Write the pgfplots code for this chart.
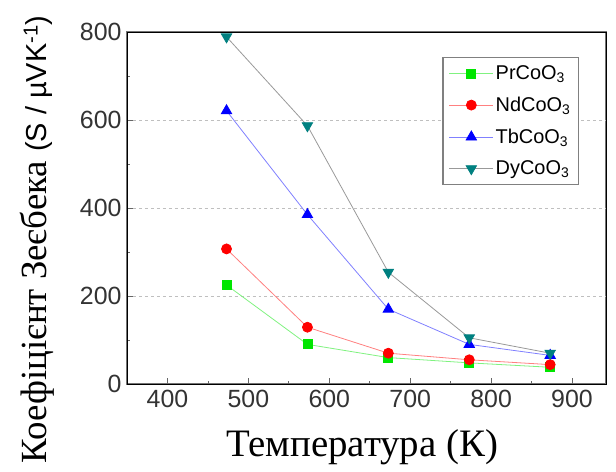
\documentclass[border=0pt]{standalone}
\usepackage{pgfplots}
\pgfplotsset{compat=1.18}
\usepackage{fontspec}
\setmainfont{Liberation Serif}
\newfontfamily\arial{Liberation Sans}
\definecolor{prc}{RGB}{0,230,0}
\definecolor{ndc}{RGB}{255,0,0}
\definecolor{tbc}{RGB}{0,0,255}
\definecolor{dyc}{RGB}{0,128,128}
\begin{document}
\begin{tikzpicture}[x=1bp,y=1bp]
\begin{axis}[
  name=ax,
  scale only axis,
  width=479bp, height=352bp,
  xmin=350, xmax=942, ymin=0, ymax=800,
  xtick={400,500,...,900}, minor x tick num=1,
  ytick={0,200,...,800}, minor y tick num=1,
  tick pos=left, tick align=inside,
  major tick length=6bp, minor tick length=3bp,
  axis background/.style={draw=black!55, line width=2bp},
  every tick/.style={black!60, line width=0.8bp},
  ymajorgrids, grid style={black!25, dashed, line width=0.8bp},
  /pgf/number format/assume math mode=true,
  ticklabel style={font=\arial\fontsize{25}{27}\selectfont, text=black!80},
  xticklabel style={yshift=-3bp},
  yticklabel style={xshift=-2bp},
  xlabel={\fontsize{39}{42}\selectfont Температура (К)},
  ylabel={\fontsize{37}{40}\selectfont Коефіцієнт Зеєбека {\arial\fontsize{29}{32}\selectfont (S / µVK\textsuperscript{-1})}},
  xlabel style={at={(axis description cs:0.491,-0.207)}, anchor=base},
  ylabel style={at={(axis description cs:-0.168,0.411)}, anchor=base},
  legend style={at={(0.658,0.929)}, anchor=north west, draw=black!50, line width=1.5bp,
    font=\arial\fontsize{20}{22}\selectfont, row sep=12bp, inner sep=6bp},
  legend image code/.code={\draw[mark repeat=2,mark phase=2,#1] plot coordinates {(0bp,0bp) (22bp,0bp) (44bp,0bp)};},
  legend cell align=left,
]
\addplot[draw=prc!50, line width=0.8bp, mark=square*, mark size=4.5bp, mark options={solid, fill=prc, draw=prc}] coordinates {(473,225) (573,90) (673,60) (773,48) (873,38)};
\addlegendentry{PrCoO\textsubscript{3}}
\addplot[draw=ndc!50, line width=0.8bp, mark=*, mark size=5bp, mark options={solid, fill=ndc, draw=ndc}] coordinates {(473,307) (573,129) (673,70) (773,55) (873,44)};
\addlegendentry{NdCoO\textsubscript{3}}
\addplot[draw=tbc!50, line width=0.8bp, mark=triangle*, mark size=6bp, mark options={solid, fill=tbc, draw=tbc}] coordinates {(473,621) (573,385) (673,170) (773,90) (873,65)};
\addlegendentry{TbCoO\textsubscript{3}}
\addplot[draw=black!40, line width=0.8bp, mark=triangle*, mark size=6bp, mark options={solid, fill=dyc, draw=dyc, rotate=180}] coordinates {(473,789) (573,587) (673,254) (773,105) (873,70)};
\addlegendentry{DyCoO\textsubscript{3}}
\end{axis}
\pgfresetboundingbox
\path ([shift={(-127bp,-88bp)}]ax.south west) rectangle ([shift={(10bp,32bp)}]ax.north east);
\end{tikzpicture}
\end{document}
